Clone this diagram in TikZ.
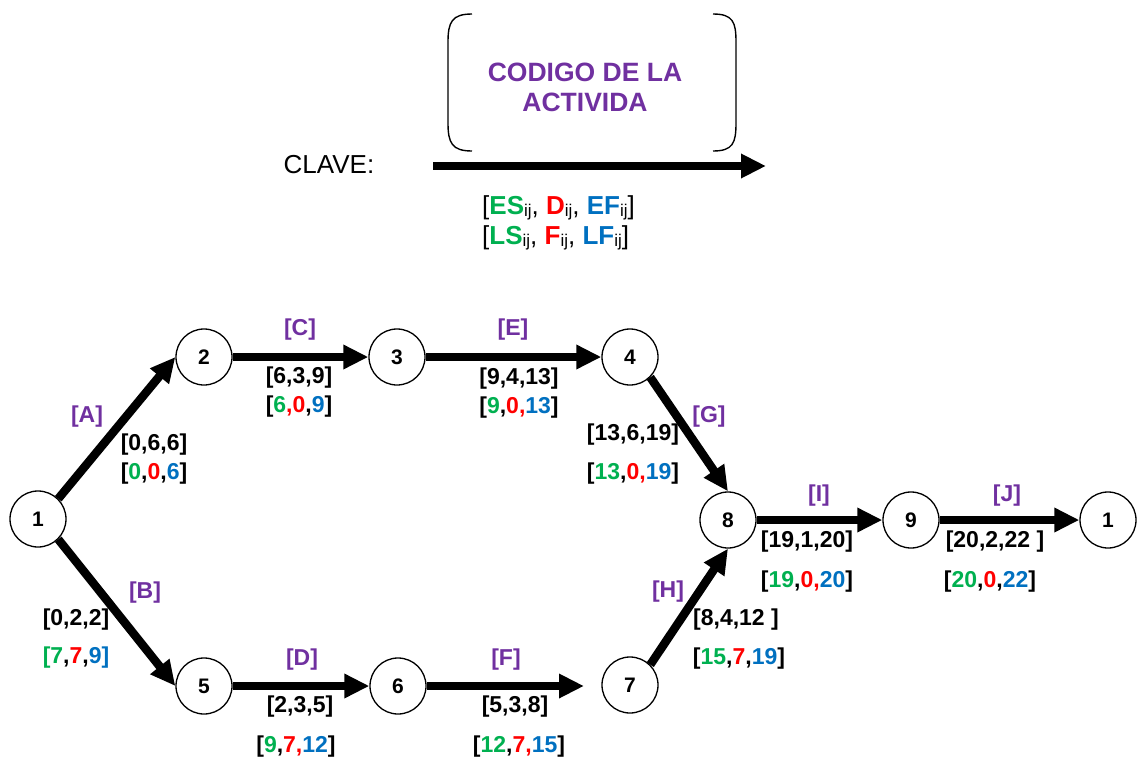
\documentclass[tikz,border=0pt]{standalone}
\usepackage{fontspec}
\setmainfont{Liberation Sans}
\usetikzlibrary{arrows.meta}
\definecolor{cg}{RGB}{0,176,80}
\definecolor{cr}{RGB}{255,0,0}
\definecolor{cb}{RGB}{0,112,192}
\definecolor{cp}{RGB}{112,48,160}
\newcommand\cgr[1]{\textcolor{cg}{#1}}
\newcommand\crd[1]{\textcolor{cr}{#1}}
\newcommand\cbl[1]{\textcolor{cb}{#1}}
\newcommand\sbij{\raisebox{-2.5pt}{\fontsize{17}{18}\selectfont\mdseries ij}}
\begin{document}
\begin{tikzpicture}[x=1pt,y=-1pt,
 st/.style={circle,draw,line width=1.3pt,minimum size=56pt,inner sep=0pt,font=\fontsize{21}{24}\selectfont\bfseries},
 act/.style={line width=8.5pt,-{Triangle[length=25pt,width=23pt]}},
 lab/.style={inner sep=0pt,font=\fontsize{23}{26}\selectfont\bfseries},
 cod/.style={lab,text=cp},
 brk/.style={line width=1.4pt}]
\useasboundingbox (0,0) rectangle (1146,758);

% legend
\draw[brk] (472,14) .. controls (452,14) and (448,22) .. (448,42) -- (448,123) .. controls (448,143) and (452,151) .. (472,151);
\draw[brk] (713,14) .. controls (733,14) and (736,22) .. (736,42) -- (736,123) .. controls (736,143) and (733,151) .. (713,151);
\node[inner sep=0pt,align=center,text=cp,font=\fontsize{26.5}{30}\selectfont\bfseries] (code) at (585,87) {CODIGO DE LA\\ACTIVIDA};
\node[inner sep=0pt,font=\fontsize{26}{30}\selectfont] (clave) at (329,165) {CLAVE:};
\coordinate (ks) at (433,166);
\coordinate (ke) at (766,166);
\draw[act] (ks) -- (ke);
\node[inner sep=0pt,anchor=west,font=\fontsize{26}{29}\selectfont] (k1) at (482,208) {[\textbf{\cgr{ES}}\sbij, \textbf{\crd{D}}\sbij, \textbf{\cbl{EF}}\sbij]};
\node[inner sep=0pt,anchor=west,font=\fontsize{26}{29}\selectfont] (k2) at (482,238) {[\textbf{\cgr{LS}}\sbij, \textbf{\crd{F}}\sbij, \textbf{\cbl{LF}}\sbij]};

% nodes
\node[st] (n1) at (38,519) {1};
\node[st] (n2) at (204,357) {2};
\node[st] (n3) at (397,357) {3};
\node[st] (n4) at (630,357) {4};
\node[st] (n5) at (204,686) {5};
\node[st] (n6) at (398,686) {6};
\node[st] (n7) at (630,685) {7};
\node[st] (n8) at (728,520) {8};
\node[st] (n9) at (911,520) {9};
\node[st] (n10) at (1108,520) {1};

% arrows
\draw[act] (n1.north east) -- (n2.west);
\draw[act] (n1.south east) -- (n5.west);
\draw[act] (n2) -- (n3);
\draw[act] (n3) -- (n4);
\draw[act] (n5) -- (n6);
\coordinate (fend) at (584,686);
\draw[act] (n6) -- (fend);
\draw[act] (n4.south east) -- (n8.north);
\draw[act] (n7.north east) -- (n8.south);
\draw[act] (n8) -- (n9);
\draw[act] (n9) -- (n10);

% activity codes
\node[cod] (cA) at (87,417) {[A]};
\node[cod] (cB) at (145,593) {[B]};
\node[cod] (cC) at (300,330) {[C]};
\node[cod] (cD) at (302,660) {[D]};
\node[cod] (cE) at (513,330) {[E]};
\node[cod] (cF) at (506,660) {[F]};
\node[cod] (cG) at (709,417) {[G]};
\node[cod] (cH) at (668,592) {[H]};
\node[cod] (cI) at (819,496) {[I]};
\node[cod] (cJ) at (1007,496) {[J]};

% times
\node[lab] (tA1) at (154,445) {[0,6,6]};
\node[lab] (tA2) at (154,474) {[\cgr{0},\crd{0},\cbl{6}]};
\node[lab] (tC1) at (299,378) {[6,3,9]};
\node[lab] (tC2) at (299,407) {[\cgr{6}\crd{,0},\cbl{9}]};
\node[lab] (tE1) at (519,379) {[9,4,13]};
\node[lab] (tE2) at (519,408) {[\cgr{9},\crd{0,}\cbl{13}]};
\node[lab] (tG1) at (633,435) {[13,6,19]};
\node[lab] (tG2) at (633,474) {[\cgr{13},\crd{0,}\cbl{19}]};
\node[lab] (tB1) at (76,620) {[0,2,2]};
\node[lab] (tB2) at (76,658) {\cgr{[7},\crd{7},\cbl{9]}};
\node[lab] (tD1) at (300,707) {[2,3,5]};
\node[lab] (tD2) at (296,747) {[\cgr{9},\crd{7,}\cbl{12}]};
\node[lab] (tF1) at (515,707) {[5,3,8]};
\node[lab] (tF2) at (519,747) {[\cgr{12},\crd{7,}\cbl{15}]};
\node[lab] (tH1) at (736,620) {[8,4,12 ]};
\node[lab] (tH2) at (739,659) {[\cgr{15},\crd{7},\cbl{19}]};
\node[lab] (tI1) at (807,542) {[19,1,20]};
\node[lab] (tI2) at (807,582) {[\cgr{19},\crd{0,}\cbl{20}]};
\node[lab] (tJ1) at (995,542) {[20,2,22 ]};
\node[lab] (tJ2) at (990,582) {[\cgr{20},\crd{0},\cbl{22}]};
\end{tikzpicture}
\end{document}
